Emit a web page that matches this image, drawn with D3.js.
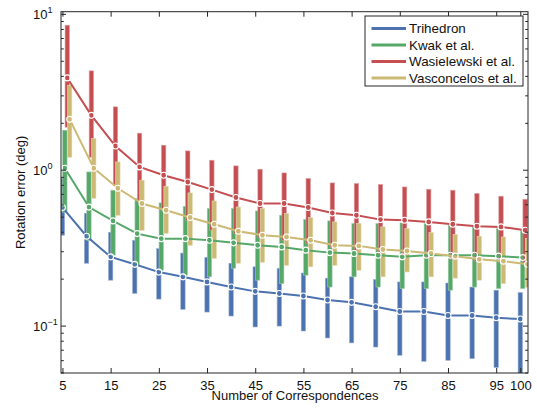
<!DOCTYPE html>
<html>
<head>
<meta charset="utf-8">
<script src="https://cdn.jsdelivr.net/npm/d3@7"></script>
<style>
  html, body { margin: 0; padding: 0; background: #fff; }
  svg { display: block; font-family: "Liberation Sans", Arial, Helvetica, sans-serif; }
</style>
</head>
<body>
<svg id="chart" width="537" height="409"></svg>
<script>
// Number of correspondences
const counts = [5,10,15,20,25,30,35,40,45,50,55,60,65,70,75,80,85,90,95,100];

// Trihedron
const triMean = [0.577,0.377,0.278,0.249,0.222,0.207,0.192,0.178,0.167,0.162,0.156,0.147,0.142,0.133,0.124,0.124,0.117,0.117,0.113,0.111];
const triHigh = [0.889,0.530,0.400,0.355,0.314,0.294,0.276,0.253,0.240,0.235,0.219,0.203,0.207,0.199,0.192,0.192,0.189,0.178,0.170,0.164];
const triLow  = [0.383,0.253,0.197,0.162,0.149,0.128,0.123,0.116,0.0987,0.100,0.093,0.0839,0.078,0.0734,0.065,0.0594,0.0603,0.0618,0.0542,0.045];

// Kwak et al.
const kwakMean = [1.03,0.580,0.473,0.392,0.364,0.364,0.355,0.342,0.330,0.322,0.307,0.296,0.292,0.285,0.278,0.285,0.285,0.285,0.281,0.275];
const kwakHigh = [1.806,0.975,0.744,0.658,0.617,0.587,0.568,0.568,0.548,0.514,0.483,0.473,0.455,0.455,0.459,0.455,0.444,0.437,0.422,0.412];
const kwakLow  = [0.538,0.355,0.285,0.2455,0.228,0.212,0.207,0.235,0.197,0.1874,0.212,0.178,0.207,0.178,0.174,0.174,0.170,0.178,0.174,0.174];

// Wasielewski et al.
const wasMean = [3.91,2.25,1.43,1.05,0.929,0.841,0.751,0.668,0.611,0.611,0.576,0.532,0.514,0.482,0.477,0.466,0.450,0.437,0.433,0.412];
const wasHigh = [8.52,4.34,2.55,1.728,1.447,1.330,1.159,1.066,1.015,0.961,0.885,0.829,0.822,0.810,0.781,0.755,0.744,0.709,0.681,0.651];
const wasLow  = [1.888,1.212,0.801,0.642,0.554,0.478,0.412,0.394,0.3715,0.355,0.340,0.3205,0.3066,0.293,0.285,0.276,0.2684,0.2606,0.2567,0.249];

// Vasconcelos et al.
const vasMean = [2.12,1.03,0.766,0.611,0.554,0.497,0.450,0.406,0.383,0.373,0.355,0.330,0.327,0.310,0.303,0.292,0.281,0.268,0.261,0.249];
const vasHigh = [3.51,1.598,1.130,0.863,0.789,0.715,0.635,0.581,0.568,0.527,0.497,0.466,0.455,0.433,0.422,0.398,0.388,0.377,0.373,0.365];
const vasLow  = [1.212,0.661,0.514,0.412,0.394,0.330,0.272,0.253,0.2567,0.2455,0.240,0.2455,0.228,0.207,0.2225,0.207,0.203,0.197,0.1874,0.1775];

const seriesNames = ["Trihedron","Kwak et al.","Wasielewski et al.","Vasconcelos et al."];
const seriesColors = ["#4c72b0","#55a868","#c44e52","#ccb974"];
const xTickValues = [5,15,25,35,45,55,65,75,85,95,100];
const yTickExponents = [1,0,-1];

const series = [
  {mean: triMean, low: triLow, high: triHigh},
  {mean: kwakMean, low: kwakLow, high: kwakHigh},
  {mean: wasMean, low: wasLow, high: wasHigh},
  {mean: vasMean, low: vasLow, high: vasHigh}
].map((s, i) => ({...s, name: seriesNames[i], color: seriesColors[i], shift: i * 0.5}));

const svg = d3.select("#chart");
const L = 61, R = 528, T = 11.7, B = 373;

const x = d3.scaleLinear().domain([4.7, 101.6]).range([L, R]);
const y = d3.scaleLog().domain([0.05, 10.4]).range([B, T]);

svg.append("defs").append("clipPath").attr("id", "plotClip")
  .append("rect").attr("x", L).attr("y", T).attr("width", R - L).attr("height", B - T);

const plot = svg.append("g").attr("clip-path", "url(#plotClip)");

// error bars (thick vertical spans)
const barW = 4.4;
series.forEach(s => {
  const edge = d3.interpolateRgb(s.color, "#ffffff")(0.45);
  plot.append("g").selectAll("rect").data(counts).join("rect")
    .attr("x", (c) => x(c + s.shift) - barW / 2)
    .attr("width", barW)
    .attr("y", (c, i) => y(s.high[i]))
    .attr("height", (c, i) => y(s.low[i]) - y(s.high[i]))
    .attr("fill", s.color)
    .attr("stroke", edge)
    .attr("stroke-width", 0.6);
});

// mean curves with open markers
const line = d3.line().curve(d3.curveLinear);
series.forEach(s => {
  const pts = counts.map((c, i) => [x(c + s.shift), y(s.mean[i])]);
  plot.append("path").attr("d", line(pts))
    .attr("fill", "none").attr("stroke", s.color).attr("stroke-width", 2);
  plot.append("g").selectAll("circle").data(pts).join("circle")
    .attr("cx", d => d[0]).attr("cy", d => d[1]).attr("r", 3)
    .attr("fill", "none").attr("stroke", "#ffffff").attr("stroke-width", 1.1);
});

// axes box
const axisColor = "#262626";
svg.append("rect").attr("x", L).attr("y", T).attr("width", R - L).attr("height", B - T)
  .attr("fill", "none").attr("stroke", axisColor).attr("stroke-width", 1);

// x ticks (bottom and top, inward)
const xAxisB = d3.axisBottom(x).tickValues(xTickValues).tickSizeInner(-5).tickSizeOuter(0).tickPadding(8);
const gxb = svg.append("g").attr("transform", `translate(0,${B})`).call(xAxisB);
gxb.select(".domain").remove();
gxb.selectAll("line").attr("stroke", axisColor);
gxb.selectAll("text").attr("font-size", 13).attr("fill", "#111")
  .attr("font-family", "'Liberation Sans', Arial, sans-serif");

const xAxisT = d3.axisTop(x).tickValues(xTickValues).tickSizeInner(-5).tickSizeOuter(0).tickFormat("");
const gxt = svg.append("g").attr("transform", `translate(0,${T})`).call(xAxisT);
gxt.select(".domain").remove();
gxt.selectAll("line").attr("stroke", axisColor);

// y ticks: majors at decades, minors at 2..9
const majors = yTickExponents.map(e => Math.pow(10, e));
const minors = [];
[-2, -1, 0].forEach(e => { for (let k = 2; k <= 9; k++) { const v = k * Math.pow(10, e); if (v >= 0.05 && v <= 10) minors.push(v); } });

function yTicks(g, sign) {
  g.selectAll("line.maj").data(majors).join("line").attr("class", "maj")
    .attr("x1", 0).attr("x2", sign * 5).attr("y1", d => y(d)).attr("y2", d => y(d))
    .attr("stroke", axisColor);
  g.selectAll("line.min").data(minors).join("line").attr("class", "min")
    .attr("x1", 0).attr("x2", sign * 2.8).attr("y1", d => y(d)).attr("y2", d => y(d))
    .attr("stroke", axisColor);
}
yTicks(svg.append("g").attr("transform", `translate(${L},0)`), 1);
yTicks(svg.append("g").attr("transform", `translate(${R},0)`), -1);

// y tick labels 10^e
const yl = svg.append("g");
yTickExponents.forEach(e => {
  const t = yl.append("text").attr("x", 33).attr("y", y(Math.pow(10, e)) + 4.5)
    .attr("font-size", 13).attr("fill", "#111");
  t.append("tspan").text("10");
  t.append("tspan").attr("dy", -6).attr("font-size", 9).text(e < 0 ? "\u2212" + (-e) : String(e));
});

// axis titles
svg.append("text").attr("x", (L + R) / 2 + 0.5).attr("y", 400)
  .attr("text-anchor", "middle").attr("font-size", 13).attr("fill", "#111")
  .text("Number of Correspondences");
svg.append("text").attr("transform", `translate(25,${(T + B) / 2}) rotate(-90)`)
  .attr("text-anchor", "middle").attr("font-size", 13).attr("fill", "#111")
  .text("Rotation error (deg)");

// legend
const lg = svg.append("g");
lg.append("rect").attr("x", 365).attr("y", 16).attr("width", 158).attr("height", 70)
  .attr("fill", "#fff").attr("stroke", axisColor).attr("stroke-width", 1);
series.forEach((s, i) => {
  const ly = 28.5 + i * 16.5;
  lg.append("line").attr("x1", 371.5).attr("x2", 406).attr("y1", ly).attr("y2", ly)
    .attr("stroke", s.color).attr("stroke-width", 3);
  lg.append("text").attr("x", 409).attr("y", ly + 4.6).attr("font-size", 13.4).attr("fill", "#111")
    .text(s.name);
});
</script>
</body>
</html>
